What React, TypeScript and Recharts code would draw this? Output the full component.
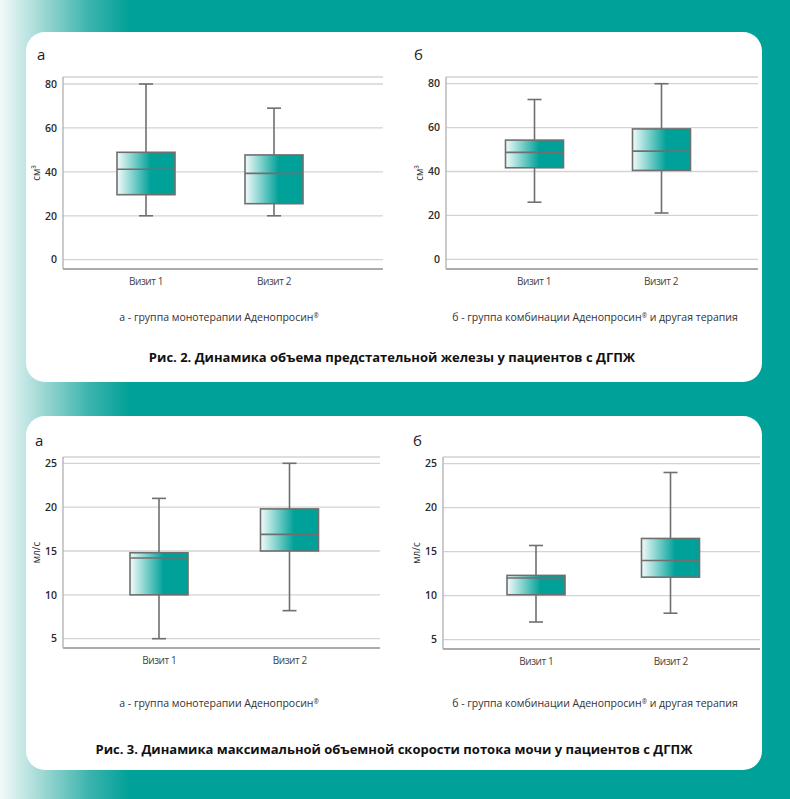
import { Bar, CartesianGrid, ComposedChart, XAxis, YAxis } from "recharts";

// Рис. 2 — объём предстательной железы, см³
const visits = ["Визит 1", "Визит 2"];
const volMonoMin = [20, 20];
const volMonoQ1 = [29.6, 25.5];
const volMonoMed = [41.2, 39.3];
const volMonoQ3 = [48.9, 47.7];
const volMonoMax = [80, 69];

const volComboMin = [26, 21.1];
const volComboQ1 = [41.7, 40.5];
const volComboMed = [48.7, 49.3];
const volComboQ3 = [54.3, 59.4];
const volComboMax = [72.8, 80];

// Рис. 3 — максимальная скорость потока мочи, мл/с
const flowMonoMin = [5, 8.2];
const flowMonoQ1 = [10, 15];
const flowMonoMed = [14.2, 16.9];
const flowMonoQ3 = [14.8, 19.8];
const flowMonoMax = [21, 25];

const flowComboMin = [7, 8];
const flowComboQ1 = [10.1, 12.1];
const flowComboMed = [12, 14];
const flowComboQ3 = [12.3, 16.5];
const flowComboMax = [15.7, 24];

const volTicks = [0, 20, 40, 60, 80];
const flowTicks = [5, 10, 15, 20, 25];

const TEAL = "#00a199";
const FONT = "'Open Sans', 'Noto Sans', sans-serif";

type Row = { visit: string; range: [number, number]; q1: number; med: number; q3: number };

function rows(mn: number[], q1: number[], med: number[], q3: number[], mx: number[]): Row[] {
  return visits.map((v, i) => ({
    visit: v,
    range: [mn[i], mx[i]],
    q1: q1[i],
    med: med[i],
    q3: q3[i],
  }));
}

// range bar [min, max] -> whiskers + box, positions interpolated on the bar's own pixel span
function BoxShape(props: any) {
  const { x, y, width, height, payload, gradId } = props;
  const [lo, hi] = payload.range as [number, number];
  const py = (v: number) => y + (height * (hi - v)) / (hi - lo);
  const cx = x + width / 2;
  const cap = 7;
  const stroke = "#6f6f6f";
  return (
    <g>
      <line x1={cx} x2={cx} y1={py(hi)} y2={py(lo)} stroke={stroke} strokeWidth={1.6} />
      <line x1={cx - cap} x2={cx + cap} y1={py(hi)} y2={py(hi)} stroke={stroke} strokeWidth={1.6} />
      <line x1={cx - cap} x2={cx + cap} y1={py(lo)} y2={py(lo)} stroke={stroke} strokeWidth={1.6} />
      <rect
        x={x}
        y={py(payload.q3)}
        width={width}
        height={py(payload.q1) - py(payload.q3)}
        fill={`url(#${gradId})`}
        stroke={stroke}
        strokeWidth={1.6}
      />
      <line x1={x} x2={x + width} y1={py(payload.med)} y2={py(payload.med)} stroke={stroke} strokeWidth={1.6} />
    </g>
  );
}

type BoxChartProps = {
  id: string;
  data: Row[];
  ticks: number[];
  yLabel: string;
  plotLeft: number;
  plotTop: number;
  plotW: number;
  plotH: number;
  padTop: number;
  padBottom: number;
  padLeft: number;
  padRight: number;
  barSize: number;
};

function BoxChart(p: BoxChartProps) {
  const axisW = 50;
  const mTop = 10;
  const xAxisH = 30;
  const width = p.plotW + axisW + 10;
  const height = p.plotH + mTop + xAxisH + 4;
  const gradId = `grad-${p.id}`;
  return (
    <div style={{ position: "absolute", left: p.plotLeft - axisW, top: p.plotTop - mTop }}>
      <ComposedChart
        width={width}
        height={height}
        data={p.data}
        margin={{ top: mTop, right: 10, bottom: 4, left: 0 }}
      >
        <defs>
          <linearGradient id={gradId} x1="0" y1="0" x2="1" y2="0">
            <stop offset="0%" stopColor="#f3fbfa" />
            <stop offset="58%" stopColor={TEAL} />
            <stop offset="100%" stopColor={TEAL} />
          </linearGradient>
        </defs>
        <CartesianGrid vertical={false} stroke="#d3d3d3" strokeWidth={1.3} />
        <XAxis
          dataKey="visit"
          height={xAxisH}
          padding={{ left: p.padLeft, right: p.padRight }}
          tickLine={false}
          tickSize={0}
          tickMargin={9}
          stroke="#9a9a9a"
          strokeWidth={1.6}
          tick={{ fill: "#444", fontSize: 10, fontFamily: FONT, letterSpacing: -0.4 }}
        />
        <YAxis
          width={axisW}
          domain={[p.ticks[0], p.ticks[p.ticks.length - 1]]}
          ticks={p.ticks}
          padding={{ top: p.padTop, bottom: p.padBottom }}
          tickLine={false}
          tickSize={0}
          tickMargin={6}
          stroke="#b0b0b0"
          strokeWidth={1.3}
          tick={{ fill: "#2a2a2a", fontSize: 10.5, fontWeight: 600, fontFamily: FONT }}
          label={(lp: any) => {
            const vb = lp.viewBox || {};
            const lx = vb.x + vb.width - 27;
            const ly = vb.y + vb.height / 2;
            return (
              <text
                x={lx}
                y={ly}
                transform={`rotate(-90 ${lx} ${ly})`}
                textAnchor="middle"
                dominantBaseline="central"
                fill="#333"
                fontSize={10}
                fontFamily={FONT}
              >
                {p.yLabel}
              </text>
            );
          }}
        />
        <Bar
          dataKey="range"
          barSize={p.barSize}
          isAnimationActive={false}
          shape={(sp: any) => <BoxShape {...sp} gradId={gradId} />}
        />
      </ComposedChart>
    </div>
  );
}

const txt = (left: number, top: number, s: React.ReactNode, extra: React.CSSProperties = {}) => (
  <div
    style={{
      position: "absolute",
      left,
      top,
      fontFamily: FONT,
      color: "#222",
      whiteSpace: "nowrap",
      lineHeight: 1,
      ...extra,
    }}
  >
    {s}
  </div>
);

const centered = (cx: number, cy: number, s: React.ReactNode, size: number, weight: number, color = "#333") =>
  txt(cx - 400, cy - size / 2, s, {
    width: 800,
    textAlign: "center",
    fontSize: size,
    fontWeight: weight,
    color,
  });

const reg = <span style={{ fontSize: "0.6em", verticalAlign: "0.45em" }}>®</span>;
const capMono = <>а - группа монотерапии Аденопросин{reg}</>;
const capCombo = <>б - группа комбинации Аденопросин{reg} и другая терапия</>;

export default function App() {
  return (
    <div
      style={{
        position: "absolute",
        left: 0,
        top: 0,
        width: 790,
        height: 799,
        overflow: "hidden",
        background: `linear-gradient(to right, #f2faf9 0px, #a3dad6 40px, #3ab3ac 90px, ${TEAL} 130px, ${TEAL} 100%)`,
      }}
    >
      <div style={{ position: "absolute", left: 26, top: 32, width: 736, height: 350, background: "#fff", borderRadius: 19 }} />
      <div style={{ position: "absolute", left: 26, top: 416, width: 736, height: 354, background: "#fff", borderRadius: 19 }} />

      {txt(37, 47, "а", { fontSize: 15 })}
      {txt(414, 47, "б", { fontSize: 15 })}
      {txt(35, 433, "а", { fontSize: 15 })}
      {txt(413, 433, "б", { fontSize: 15 })}

      <BoxChart
        id="vm"
        data={rows(volMonoMin, volMonoQ1, volMonoMed, volMonoQ3, volMonoMax)}
        ticks={volTicks}
        yLabel="см³"
        plotLeft={63}
        plotTop={77}
        plotW={320}
        plotH={192}
        padTop={7}
        padBottom={9.3}
        padLeft={19}
        padRight={45}
        barSize={58}
      />
      <BoxChart
        id="vc"
        data={rows(volComboMin, volComboQ1, volComboMed, volComboQ3, volComboMax)}
        ticks={volTicks}
        yLabel="см³"
        plotLeft={446}
        plotTop={77}
        plotW={312}
        plotH={192}
        padTop={6.7}
        padBottom={9.7}
        padLeft={24.5}
        padRight={33.5}
        barSize={58}
      />
      <BoxChart
        id="fm"
        data={rows(flowMonoMin, flowMonoQ1, flowMonoMed, flowMonoQ3, flowMonoMax)}
        ticks={flowTicks}
        yLabel="мл/с"
        plotLeft={63}
        plotTop={457}
        plotW={317}
        plotH={191}
        padTop={6.3}
        padBottom={9.3}
        padLeft={31}
        padRight={25}
        barSize={58}
      />
      <BoxChart
        id="fc"
        data={rows(flowComboMin, flowComboQ1, flowComboMed, flowComboQ3, flowComboMax)}
        ticks={flowTicks}
        yLabel="мл/с"
        plotLeft={443}
        plotTop={457}
        plotW={317}
        plotH={192}
        padTop={6.7}
        padBottom={9.4}
        padLeft={26}
        padRight={22}
        barSize={58}
      />

      {centered(219, 317, capMono, 10.5, 400)}
      {centered(595, 317, capCombo, 10.5, 400)}
      {centered(392, 357, "Рис. 2. Динамика объема предстательной железы у пациентов с ДГПЖ", 13, 700, "#111")}

      {centered(219, 703, capMono, 10.5, 400)}
      {centered(595, 703, capCombo, 10.5, 400)}
      {centered(394, 749, "Рис. 3. Динамика максимальной объемной скорости потока мочи у пациентов с ДГПЖ", 13, 700, "#111")}
    </div>
  );
}
